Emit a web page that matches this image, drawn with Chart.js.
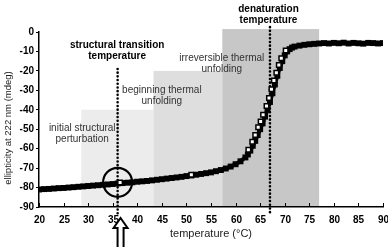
<!DOCTYPE html>
<html>
<head>
<meta charset="utf-8">
<script src="https://cdn.jsdelivr.net/npm/chart.js@4"></script>
<style>
  html, body { margin: 0; padding: 0; background: #fff; }
  #chart { display: block; }
</style>
</head>
<body>
<canvas id="chart" width="388" height="247"></canvas>
<script>
// measured CD signal (filled squares)
const temps = [20, 21, 22, 23, 24, 25, 26, 27, 28, 29, 30, 31, 32, 33, 34, 35, 36, 37, 38, 39,
  40, 41, 42, 43, 44, 45, 46, 47, 48, 49, 50, 51, 52, 53, 54, 55, 56, 57, 58, 59,
  60, 61, 62, 62.5, 63, 63.5, 64, 64.5, 65, 65.5, 66, 66.5, 67, 67.5, 68, 68.5, 69, 69.5, 70, 70.5,
  71, 71.5, 72, 73, 74, 75, 76, 77, 78, 79, 80, 81, 82, 83, 84, 85, 86, 87, 88, 89, 90];
const ellipticity = [-81.0, -80.8, -80.7, -80.5, -80.3, -80.2, -80.0, -79.8, -79.6, -79.4, -79.2, -79.0, -78.8, -78.6, -78.4, -78.2, -77.9, -77.7, -77.5, -77.3,
  -77.0, -76.8, -76.6, -76.3, -76.0, -75.7, -75.4, -75.1, -74.8, -74.5, -74.1, -73.8, -73.4, -73.0, -72.6, -72.2, -71.6, -71.0, -70.2, -69.2,
  -68.0, -66.5, -64.5, -63.0, -61.0, -58.5, -56.0, -53.0, -50.0, -47.0, -43.5, -40.0, -36.0, -31.5, -27.0, -22.5, -18.5, -15.0, -12.0, -10.0,
  -8.8, -8.0, -7.5, -7.0, -6.6, -6.3, -6.1, -5.9, -5.7, -5.9, -5.6, -5.8, -5.5, -5.9, -5.6, -5.8, -6.0, -5.6, -5.7, -5.9, -5.7];

// second scan (open squares)
const openTemps = [36.5, 51, 62.6, 63.4, 64.0, 64.6, 65.1, 65.6, 66.3, 66.8, 67.3, 67.8, 68.3, 68.8, 69.3, 70.2];
const openEllipticity = [-77.4, -73.4, -60.5, -56.5, -53.0, -49.0, -46.0, -42.5, -38.0, -34.0, -29.5, -25.0, -21.0, -17.0, -13.5, -9.5];

// axis ticks
const xTicks = [20, 25, 30, 35, 40, 45, 50, 55, 60, 65, 70, 75, 80, 85, 90];

// shaded phases
const phaseStart = [28.6, 43.3, 57.3];
const phaseEnd = [43.3, 57.3, 77];
const phaseTop = [-40, -20, 1.5];
const phaseColors = ["#ececec", "#dedede", "#c7c7c7"];

// dotted transition markers
const markerTemps = [36, 67];
const markerTop = [-19, 2.5];
const markerBottom = -93.5;

const circleTemp = 36;
const circleValue = -77.3;
const arrowTemp = 36.6;

const annotations = [
  { x: 28.8, y: -49.4, lines: ["initial structural", "perturbation"], bold: false },
  { x: 45.0, y: -29.8, lines: ["beginning thermal", "unfolding"], bold: false },
  { x: 57.2, y: -13.4, lines: ["irreversible thermal", "unfolding"], bold: false },
  { x: 35.9, y: -6.7, lines: ["structural transition", "temperature"], bold: true },
  { x: 66.7, y: 11.8, lines: ["denaturation", "temperature"], bold: true }
];

const FONT = "'Liberation Sans', Arial, sans-serif";

const phasePlugin = {
  id: "phases",
  beforeDatasetsDraw(chart) {
    const { ctx, scales: { x, y } } = chart;
    ctx.save();
    for (let i = 0; i < phaseStart.length; i++) {
      const x0 = x.getPixelForValue(phaseStart[i]);
      const x1 = x.getPixelForValue(phaseEnd[i]);
      const y0 = y.getPixelForValue(phaseTop[i]);
      const y1 = y.getPixelForValue(-90);
      ctx.fillStyle = phaseColors[i];
      ctx.fillRect(x0, y0, x1 - x0, y1 - y0 - 1);
    }
    ctx.restore();
  }
};

const overlayPlugin = {
  id: "overlay",
  afterDraw(chart) {
    const { ctx, scales: { x, y } } = chart;
    ctx.save();
    // inward x ticks + labels
    ctx.strokeStyle = "#000";
    ctx.lineWidth = 1;
    const yb = y.getPixelForValue(-90);
    ctx.font = "bold 10px " + FONT;
    ctx.fillStyle = "#000";
    ctx.textAlign = "center";
    ctx.textBaseline = "middle";
    xTicks.forEach(t => {
      const px = Math.round(x.getPixelForValue(t)) + 0.5;
      ctx.beginPath();
      ctx.moveTo(px, yb);
      ctx.lineTo(px, yb - 4);
      ctx.stroke();
      ctx.fillText(String(t), px, yb + 13);
    });
    // y title
    ctx.save();
    ctx.translate(8, 128);
    ctx.rotate(-Math.PI / 2);
    ctx.font = "9.5px " + FONT;
    ctx.fillStyle = "#222";
    ctx.fillText("ellipticity at 222 nm (mdeg)", 0, 0);
    ctx.restore();
    // labels
    annotations.forEach(a => {
      ctx.font = (a.bold ? "bold " : "") + "10px " + FONT;
      ctx.fillStyle = a.bold ? "#000" : "#333";
      const px = x.getPixelForValue(a.x);
      const py = y.getPixelForValue(a.y);
      a.lines.forEach((ln, k) => ctx.fillText(ln, px, py + k * 11.5));
    });
    // hollow arrow under the axis
    const cx = x.getPixelForValue(arrowTemp);
    const tip = yb + 11;
    const base = tip + 10;
    const end = chart.height + 2;
    ctx.beginPath();
    ctx.moveTo(cx, tip);
    ctx.lineTo(cx + 7, base);
    ctx.lineTo(cx + 3, base);
    ctx.lineTo(cx + 3, end);
    ctx.lineTo(cx - 3, end);
    ctx.lineTo(cx - 3, base);
    ctx.lineTo(cx - 7, base);
    ctx.closePath();
    ctx.fillStyle = "#fff";
    ctx.fill();
    ctx.lineWidth = 2;
    ctx.strokeStyle = "#000";
    ctx.stroke();
    ctx.restore();
  }
};

const markerSets = markerTemps.map((t, i) => ({
  data: [{ x: t, y: markerTop[i] }, { x: t, y: markerBottom }],
  borderColor: "#000",
  borderWidth: 2.6,
  borderDash: [0, 3.7],
  borderCapStyle: "round",
  pointRadius: 0,
  clip: false,
  order: 3
}));

new Chart(document.getElementById("chart"), {
  type: "line",
  data: {
    datasets: [
      {
        data: [{ x: circleTemp, y: circleValue }],
        pointRadius: 14.5,
        pointBorderWidth: 2.2,
        pointBorderColor: "#000",
        pointBackgroundColor: "rgba(0,0,0,0)",
        showLine: false,
        order: 0
      },
      {
        data: openTemps.map((t, i) => ({ x: t, y: openEllipticity[i] })),
        pointStyle: "rect",
        pointRadius: 3.2,
        pointBorderWidth: 1.5,
        pointBorderColor: "#000",
        pointBackgroundColor: "#fff",
        showLine: false,
        order: 1
      },
      {
        data: temps.map((t, i) => ({ x: t, y: ellipticity[i] })),
        borderColor: "#000",
        borderWidth: 4,
        pointStyle: "rect",
        pointRadius: 4.2,
        pointBorderWidth: 0,
        pointBackgroundColor: "#000",
        order: 2
      },
      ...markerSets
    ]
  },
  options: {
    responsive: false,
    animation: false,
    events: [],
    layout: { autoPadding: false, padding: { top: 32, right: 5, left: 0, bottom: 0 } },
    plugins: { legend: { display: false }, tooltip: { enabled: false } },
    scales: {
      x: {
        type: "linear",
        min: 20,
        max: 90,
        afterFit(s) { s.height = 40; },
        grid: { display: false, drawTicks: false },
        border: { display: true, color: "#000", width: 1.5 },
        ticks: { display: false, stepSize: 5 },
        title: {
          display: true,
          text: "temperature (°C)",
          color: "#222",
          padding: { top: 0, bottom: 6 },
          font: { family: FONT, size: 11 }
        }
      },
      y: {
        min: -90,
        max: 0,
        afterFit(s) { s.width = 39; },
        grid: { drawOnChartArea: false, drawTicks: true, tickLength: 3, color: "#000" },
        border: { display: true, color: "#000", width: 1.5 },
        ticks: {
          stepSize: 10,
          padding: 2,
          color: "#000",
          font: { family: FONT, size: 10, weight: "bold" }
        },
        title: { display: false }
      }
    }
  },
  plugins: [phasePlugin, overlayPlugin]
});
</script>
</body>
</html>
